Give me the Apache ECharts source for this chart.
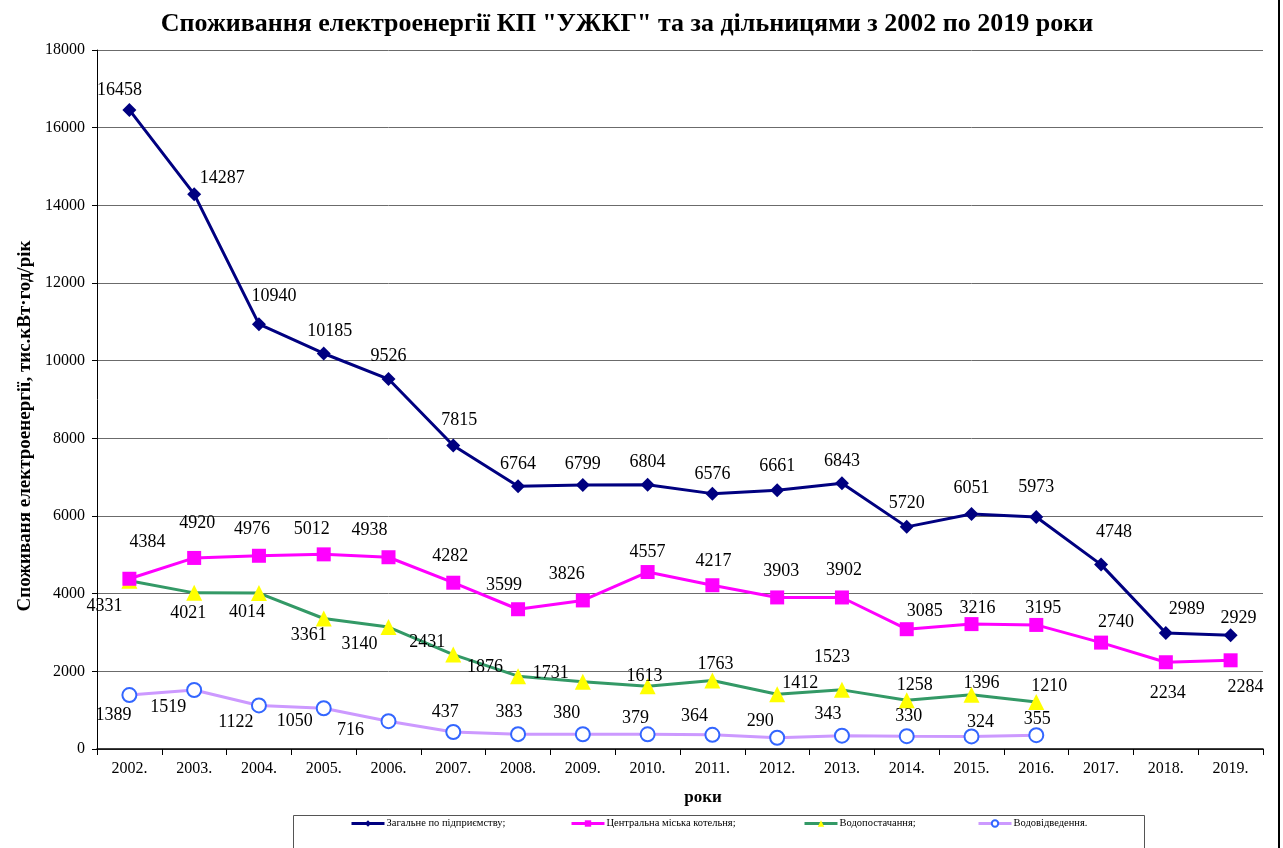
<!DOCTYPE html>
<html>
<head>
<meta charset="utf-8">
<script src="https://cdn.jsdelivr.net/npm/echarts@6/dist/echarts.min.js"></script>
<style>
html,body{margin:0;padding:0;background:#fff;}
#chart{width:1283px;height:848px;}
</style>
</head>
<body>
<div id="chart"></div>
<script>
// ---- data ----
const years = ['2002.','2003.','2004.','2005.','2006.','2007.','2008.','2009.','2010.','2011.','2012.','2013.','2014.','2015.','2016.','2017.','2018.','2019.'];
const seriesNames = ['Загальне по підприємству;','Центральна міська котельня;','Водопостачання;','Водовідведення.'];
const totalValues = [16458,14287,10940,10185,9526,7815,6764,6799,6804,6576,6661,6843,5720,6051,5973,4748,2989,2929];
const boilerValues = [4384,4920,4976,5012,4938,4282,3599,3826,4557,4217,3903,3902,3085,3216,3195,2740,2234,2284];
const waterSupplyValues = [4331,4021,4014,3361,3140,2431,1876,1731,1613,1763,1412,1523,1258,1396,1210,null,null,null];
const wastewaterValues = [1389,1519,1122,1050,716,437,383,380,379,364,290,343,330,324,355,null,null,null];
const yTicks = {min:0, max:18000, interval:2000};

// ---- label offsets (styling) ----
const totalOff = [[-10,-20],[28,-16],[15,-28],[6,-22],[0,-23],[6,-25],[0,-22],[0,-21],[0,-23],[0,-19],[0,-24],[0,-22],[0,-24],[0,-26],[0,-30],[13,-32],[21,-24],[8,-17]];
const boilerOff = [[18,-36],[3,-35],[-7,-26],[-12,-25],[-19,-27],[-3,-26],[-14,-24],[-16,-26],[0,-20],[1,-24],[4,-26],[2,-27],[18,-18],[6,-16],[7,-17],[15,-20],[2,31],[15,27]];
const waterOff = [[-25,25],[-6,20],[-12,19],[-15,17],[-29,17],[-26,-12],[-33,-9],[-32,-9],[-3,-10],[3,-16],[23,-11],[-10,-33],[8,-15],[10,-12],[13,-16]];
const wasteOff = [[-16,20],[-26,17],[-23,17],[-29,13],[-38,9],[-8,-20],[-9,-22],[-16,-21],[-12,-16],[-18,-19],[-17,-16],[-14,-21],[2,-20],[9,-14],[1,-16]];

const FONT = '"Liberation Serif","Times New Roman",serif';

function mk(values, offs){
  return values.map((v,i)=> v==null ? null : {value:v, label:{offset:offs[i]}});
}
const lblBase = {show:true, position:'inside', color:'#000', fontFamily:FONT, fontSize:18};

const chart = echarts.init(document.getElementById('chart'), null, {renderer:'canvas'});
const legendLefts = [350,570,803,977];
const option = {
  backgroundColor:'#fff',
  animation:false,
  title:{
    text:'Споживання електроенергії КП "УЖКГ" та за дільницями з 2002 по 2019 роки',
    left:622, top:6, textAlign:'center',
    textStyle:{fontFamily:FONT, fontSize:26, fontWeight:'bold', color:'#000'}
  },
  grid:{left:97, right:20, top:50, bottom:99, containLabel:false},
  legend: seriesNames.map((n,i)=>({
    data:[n], left:legendLefts[i], top:818, itemWidth:33, itemHeight:8, itemGap:0,
    padding:0, selectedMode:false,
    lineStyle:{width:3},
    textStyle:{fontFamily:FONT, fontSize:10.5, color:'#000', padding:[0,0,0,-3]}
  })),
  xAxis:{
    type:'category', data:years, boundaryGap:true,
    axisLine:{lineStyle:{color:'#000', width:1.5}},
    axisTick:{show:true, length:6, lineStyle:{color:'#000'}},
    axisLabel:{fontFamily:FONT, fontSize:16, color:'#000', margin:12},
    splitLine:{show:false}
  },
  yAxis:{
    type:'value', min:yTicks.min, max:yTicks.max, interval:yTicks.interval,
    axisLine:{show:true, lineStyle:{color:'#000', width:1}},
    axisTick:{show:true, length:5, lineStyle:{color:'#000'}},
    axisLabel:{fontFamily:FONT, fontSize:16, color:'#000', margin:12, formatter:(v)=>String(v)},
    splitLine:{show:true, lineStyle:{color:'#6b6b6b', width:1}}
  },
  graphic:[
    {type:'text', position:[25,426], rotation:Math.PI/2,
      style:{text:'Споживаня електроенергії, тис.кВт·год/рік', font:'bold 19px '+FONT, fill:'#000', textAlign:'center', textVerticalAlign:'middle'}},
    {type:'text', position:[703,798], style:{text:'роки', font:'bold 17px '+FONT, fill:'#000', textAlign:'center', textVerticalAlign:'middle'}},
    {type:'rect', shape:{x:293.5, y:815.5, width:851, height:60}, style:{fill:'none', stroke:'#555', lineWidth:1}},
    {type:'line', shape:{x1:1279, y1:0, x2:1279, y2:848}, style:{stroke:'#000', lineWidth:2}}
  ],
  series:[
    {name:seriesNames[0], type:'line', data:mk(totalValues,totalOff),
      symbol:'diamond', symbolSize:14,
      lineStyle:{color:'#000080', width:3}, itemStyle:{color:'#000080'},
      label:lblBase, z:5},
    {name:seriesNames[1], type:'line', data:mk(boilerValues,boilerOff),
      symbol:'rect', symbolSize:14,
      lineStyle:{color:'#FF00FF', width:3}, itemStyle:{color:'#FF00FF'},
      label:lblBase, z:4},
    {name:seriesNames[2], type:'line', data:mk(waterSupplyValues,waterOff),
      symbol:'triangle', symbolSize:16,
      lineStyle:{color:'#339966', width:3}, itemStyle:{color:'#FFFF00', borderWidth:0},
      label:lblBase, z:3},
    {name:seriesNames[3], type:'line', data:mk(wastewaterValues,wasteOff),
      symbol:'emptyCircle', symbolSize:14,
      lineStyle:{color:'#CC99FF', width:3}, itemStyle:{color:'#3366FF', borderColor:'#3366FF', borderWidth:1.5},
      label:lblBase, z:2}
  ]
};
chart.setOption(option);
</script>
</body>
</html>
